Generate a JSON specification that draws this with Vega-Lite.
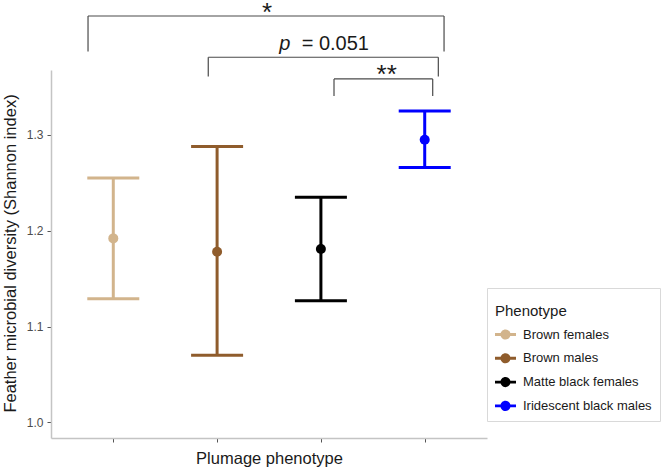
{
  "$schema": "https://vega.github.io/schema/vega-lite/v6.json",
  "width": 436,
  "height": 368,
  "autosize": {"type": "none"},
  "padding": {"left": 51, "top": 70, "right": 177, "bottom": 31},
  "background": "white",
  "config": {"view": {"stroke": null}, "font": "Liberation Sans", "axisY": {"titleY": 183}},
  "datasets": {
    "groups": [
      {"Phenotype": "Brown females", "mean": 1.192, "lower": 1.129, "upper": 1.255},
      {"Phenotype": "Brown males", "mean": 1.178, "lower": 1.070, "upper": 1.288},
      {"Phenotype": "Matte black females", "mean": 1.181, "lower": 1.127, "upper": 1.235},
      {"Phenotype": "Iridescent black males", "mean": 1.295, "lower": 1.266, "upper": 1.325}
    ],
    "brackets": [
      {"x1": 0.760, "x2": 4.183, "ytop": 1.4242, "ybot": 1.3870},
      {"x1": 1.916, "x2": 4.128, "ytop": 1.3811, "ybot": 1.3609},
      {"x1": 3.125, "x2": 4.074, "ytop": 1.3585, "ybot": 1.3407}
    ],
    "annot": [
      {"u": 2.481, "v": 1.4190, "label": "*", "kind": "star"},
      {"u": 3.631, "v": 1.3538, "label": "**", "kind": "star"},
      {"u": 2.599, "v": 1.3887, "label": "p", "kind": "italic"},
      {"u": 2.814, "v": 1.3887, "label": "= 0.051", "kind": "plain"}
    ]
  },
  "layer": [
    {
      "data": {"name": "groups"},
      "encoding": {
        "x": {
          "field": "Phenotype", "type": "nominal",
          "sort": ["Brown females", "Brown males", "Matte black females", "Iridescent black males"],
          "scale": {"type": "point", "padding": 0.6},
          "axis": {
            "labels": false, "title": "Plumage phenotype",
            "domainColor": "#C4C4C4", "domainWidth": 1.5,
            "tickColor": "#555555", "tickSize": 4, "tickWidth": 1,
            "titleFontSize": 16.5, "titleFontWeight": "normal", "titleColor": "#1a1a1a",
            "titlePadding": 8
          }
        },
        "color": {
          "field": "Phenotype", "type": "nominal",
          "scale": {
            "domain": ["Brown females", "Brown males", "Matte black females", "Iridescent black males"],
            "range": ["#D2B48C", "#8F5C2C", "#000000", "#0000FF"]
          },
          "legend": {
            "orient": "none", "legendX": 436, "legendY": 218,
            "title": ["", "Phenotype"], "titleFontSize": 15, "titleFontWeight": "normal", "titleColor": "#1a1a1a",
            "titleLineHeight": 8, "titlePadding": 5,
            "labelFontSize": 13, "labelColor": "#1a1a1a", "labelOffset": 7,
            "symbolType": "M-1,-0.14L1,-0.14L1,0.14L-1,0.14Z M0.48,0A0.48,0.48,0,1,1,-0.48,0A0.48,0.48,0,1,1,0.48,0Z",
            "symbolSize": 441, "symbolStrokeWidth": 0,
            "rowPadding": 5.8, "padding": 8,
            "strokeColor": "#D9D9D9", "fillColor": "white",
            "encode": {"symbols": {"update": {"fill": {"scale": "color", "field": "value"}, "opacity": {"value": 1}, "strokeWidth": {"value": 0}}}}
          }
        }
      },
      "layer": [
        {
          "mark": {"type": "rule", "strokeWidth": 3},
          "encoding": {
            "y": {"field": "lower", "type": "quantitative",
              "scale": {"domain": [0.9836, 1.3678], "nice": false, "zero": false},
              "axis": {
                "title": "Feather microbial diversity (Shannon index)",
                "values": [1.0, 1.1, 1.2, 1.3], "format": ".1f", "grid": false,
                "domainColor": "#C4C4C4", "domainWidth": 1.5,
                "tickColor": "#555555", "tickSize": 4,
                "labelColor": "#4D4D4D", "labelFontSize": 12, "labelPadding": 4,
                "titleFontSize": 16.5, "titleFontWeight": "normal", "titleColor": "#1a1a1a",
                "titlePadding": 8, "titleY": 183
              }
            },
            "y2": {"field": "upper"}
          }
        },
        {
          "mark": {"type": "tick", "size": 52, "thickness": 3, "orient": "horizontal", "opacity": 1},
          "encoding": {"y": {"field": "upper", "type": "quantitative", "scale": {"domain": [0.9836, 1.3678], "nice": false, "zero": false}}}
        },
        {
          "mark": {"type": "tick", "size": 52, "thickness": 3, "orient": "horizontal", "opacity": 1},
          "encoding": {"y": {"field": "lower", "type": "quantitative", "scale": {"domain": [0.9836, 1.3678], "nice": false, "zero": false}}}
        },
        {
          "mark": {"type": "point", "filled": true, "size": 100, "opacity": 1},
          "encoding": {"y": {"field": "mean", "type": "quantitative", "scale": {"domain": [0.9836, 1.3678], "nice": false, "zero": false}}}
        }
      ]
    },
    {
      "data": {"name": "brackets"},
      "encoding": {
        "x": {"field": "x1", "type": "quantitative", "scale": {"domain": [0.404, 4.596], "nice": false, "zero": false}, "axis": null}
      },
      "layer": [
        {
          "mark": {"type": "rule", "color": "#4a4a4a", "strokeWidth": 1.2},
          "encoding": {
            "x2": {"field": "x2"},
            "y": {"field": "ytop", "type": "quantitative", "scale": {"domain": [0.9836, 1.3678], "nice": false, "zero": false}}
          }
        },
        {
          "mark": {"type": "rule", "color": "#4a4a4a", "strokeWidth": 1.2},
          "encoding": {
            "y": {"field": "ytop", "type": "quantitative", "scale": {"domain": [0.9836, 1.3678], "nice": false, "zero": false}},
            "y2": {"field": "ybot"}
          }
        },
        {
          "mark": {"type": "rule", "color": "#4a4a4a", "strokeWidth": 1.2},
          "encoding": {
            "x": {"field": "x2", "type": "quantitative", "scale": {"domain": [0.404, 4.596], "nice": false, "zero": false}, "axis": null},
            "y": {"field": "ytop", "type": "quantitative", "scale": {"domain": [0.9836, 1.3678], "nice": false, "zero": false}},
            "y2": {"field": "ybot"}
          }
        }
      ]
    },
    {
      "data": {"name": "annot"},
      "encoding": {
        "x": {"field": "u", "type": "quantitative", "scale": {"domain": [0.404, 4.596], "nice": false, "zero": false}, "axis": null},
        "y": {"field": "v", "type": "quantitative", "scale": {"domain": [0.9836, 1.3678], "nice": false, "zero": false}},
        "text": {"field": "label"}
      },
      "layer": [
        {
          "transform": [{"filter": "datum.kind === 'star'"}],
          "mark": {"type": "text", "fontSize": 26, "color": "#1a1a1a", "align": "center", "baseline": "alphabetic"}
        },
        {
          "transform": [{"filter": "datum.kind === 'italic'"}],
          "mark": {"type": "text", "fontSize": 20, "fontStyle": "italic", "color": "#1a1a1a", "align": "left", "baseline": "alphabetic"}
        },
        {
          "transform": [{"filter": "datum.kind === 'plain'"}],
          "mark": {"type": "text", "fontSize": 20, "color": "#1a1a1a", "align": "left", "baseline": "alphabetic"}
        }
      ]
    }
  ],
  "resolve": {"scale": {"x": "independent"}}
}
